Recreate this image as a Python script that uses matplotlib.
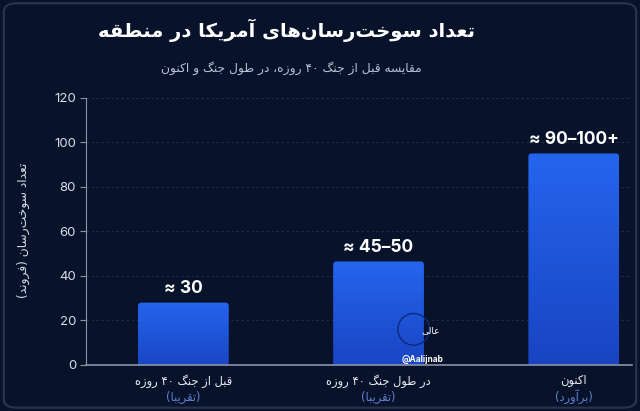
"""Persian bar chart: number of US tanker aircraft in the region."""
import re

import matplotlib
matplotlib.use("Agg")
import matplotlib.pyplot as plt
import numpy as np
from matplotlib.colors import LinearSegmentedColormap
from matplotlib.patches import FancyBboxPatch

# --- data -----------------------------------------------------------------
categories = ["قبل از جنگ ۴۰ روزه", "در طول جنگ ۴۰ روزه", "اکنون"]
notes = ["(تقریبا)", "(تقریبا)", "(برآورد)"]
values = [28, 46.5, 95]
value_labels = ["≈ 30", "≈ 45–50", "≈ 90–100+"]
y_ticks = [0, 20, 40, 60, 80, 100, 120]

title = "تعداد سوخت‌رسان‌های آمریکا در منطقه"
subtitle = "مقایسه قبل از جنگ ۴۰ روزه، در طول جنگ و اکنون"
y_label = "تعداد سوخت‌رسان (فروند)"

# --- minimal Arabic-script shaping (matplotlib has no RTL layout) ---------
# (isolated, final, initial, medial); None = letter does not join forward
FORMS = {
    "\u0627": (0xFE8D, 0xFE8E, None, None),
    "\u0622": (0xFE81, 0xFE82, None, None),
    "\u062F": (0xFEA9, 0xFEAA, None, None),
    "\u0631": (0xFEAD, 0xFEAE, None, None),
    "\u0632": (0xFEAF, 0xFEB0, None, None),
    "\u0648": (0xFEED, 0xFEEE, None, None),
    "\u0628": (0xFE8F, 0xFE90, 0xFE91, 0xFE92),
    "\u062A": (0xFE95, 0xFE96, 0xFE97, 0xFE98),
    "\u062C": (0xFE9D, 0xFE9E, 0xFE9F, 0xFEA0),
    "\u062E": (0xFEA5, 0xFEA6, 0xFEA7, 0xFEA8),
    "\u0633": (0xFEB1, 0xFEB2, 0xFEB3, 0xFEB4),
    "\u0637": (0xFEC1, 0xFEC2, 0xFEC3, 0xFEC4),
    "\u0639": (0xFEC9, 0xFECA, 0xFECB, 0xFECC),
    "\u0641": (0xFED1, 0xFED2, 0xFED3, 0xFED4),
    "\u0642": (0xFED5, 0xFED6, 0xFED7, 0xFED8),
    "\u0644": (0xFEDD, 0xFEDE, 0xFEDF, 0xFEE0),
    "\u0645": (0xFEE1, 0xFEE2, 0xFEE3, 0xFEE4),
    "\u0646": (0xFEE5, 0xFEE6, 0xFEE7, 0xFEE8),
    "\u0647": (0xFEE9, 0xFEEA, 0xFEEB, 0xFEEC),
    "\u06CC": (0xFBFC, 0xFBFD, 0xFBFE, 0xFBFF),
    "\u06A9": (0xFB8E, 0xFB8F, 0xFB90, 0xFB91),
    "\u06AF": (0xFB92, 0xFB93, 0xFB94, 0xFB95),
}
MIRROR = str.maketrans("()", ")(")


def fa(text):
    out = []
    for i, c in enumerate(text):
        if c not in FORMS:
            out.append(c)
            continue
        prev = text[i - 1] if i > 0 else ""
        nxt = text[i + 1] if i + 1 < len(text) else ""
        joins_prev = prev in FORMS and FORMS[prev][2] is not None
        joins_next = FORMS[c][2] is not None and nxt in FORMS
        iso, fin, ini, med = FORMS[c]
        if joins_prev and joins_next:
            out.append(chr(med))
        elif joins_prev:
            out.append(chr(fin))
        elif joins_next:
            out.append(chr(ini))
        else:
            out.append(chr(iso))
    shaped = "".join(out).replace("\u200c", "")
    visual = shaped[::-1].translate(MIRROR)
    return re.sub(r"[0-9\u06F0-\u06F9A-Za-z@]+", lambda m: m.group()[::-1], visual)


# --- styling ----------------------------------------------------------------
BG = "#08132b"
FA_FONT = ["DejaVu Sans"]
NUM_FONT = ["Inter", "DejaVu Sans"]

fig = plt.figure(figsize=(6.4, 4.11), dpi=100, facecolor=BG)
fig.patches.append(FancyBboxPatch((0.006, 0.008), 0.988, 0.984, boxstyle="round,pad=0,rounding_size=0.02",
                                  transform=fig.transFigure, facecolor="none", edgecolor="#27334c", linewidth=1.6))

ax = fig.add_axes([0.134, 0.112, 0.854, 0.650])
ax.set_facecolor(BG)

x = np.arange(len(categories))
bars = ax.bar(x, values, width=0.465, color="none", zorder=2)

cmap = LinearSegmentedColormap.from_list("bar", ["#1843c0", "#2565ee"])
grad = np.linspace(0, 1, 256).reshape(-1, 1)
for bar in bars:
    bx, by, bw, bh = bar.get_x(), bar.get_y(), bar.get_width(), bar.get_height()
    patch = FancyBboxPatch((bx, by - 3), bw, bh + 3, boxstyle="round,pad=0,rounding_size=0.018",
                           mutation_aspect=90, facecolor="none", edgecolor="none", zorder=2)
    ax.add_patch(patch)
    img = ax.imshow(grad, cmap=cmap, origin="lower", aspect="auto",
                    extent=(bx, bx + bw, by - 3, by + bh), zorder=2)
    img.set_clip_path(patch)

for xi, v, lab in zip(x, values, value_labels):
    ax.text(xi, v + 2.6, lab, ha="center", va="bottom", color="white", fontsize=12.5,
            fontweight="bold", family=NUM_FONT)

ax.set_xlim(-0.5, 2.3)
ax.set_ylim(0, 120)
ax.set_yticks(y_ticks)
ax.set_yticklabels([str(t) for t in y_ticks], family=NUM_FONT, fontsize=9.5, color="#d7dce6")
ax.tick_params(axis="y", length=4, color="#8a93a6", pad=3)
ax.set_xticks([])
ax.grid(axis="y", linestyle=(0, (3, 3)), color="#243049", linewidth=0.6, zorder=0)
for side in ("top", "right"):
    ax.spines[side].set_visible(False)
ax.spines["left"].set_color("#8a93a6")
ax.spines["bottom"].set_color("#8a93a6")
ax.spines["bottom"].set_linewidth(1.2)
ax.spines["bottom"].set_zorder(4)

trans = ax.get_xaxis_transform()
for xi, cat, note in zip(x, categories, notes):
    ax.text(xi, -0.06, fa(cat), transform=trans, ha="center", va="center", color="#e6e9f0",
            fontsize=8.3, family=FA_FONT)
    ax.text(xi, -0.12, fa(note), transform=trans, ha="center", va="center", color="#5f7fcf",
            fontsize=8.3, family=FA_FONT)

# watermark
ax.scatter([1.18], [16], s=520, facecolor="none", edgecolor="#0d2a7a", linewidth=1.0, zorder=3)
ax.text(1.22, 15.5, fa("عالی"), ha="left", va="center", color="white", fontsize=6.5,
        family=FA_FONT, zorder=3)
ax.text(1.12, 2.6, "@Aalijnab", ha="left", va="center", color="white", fontsize=6,
        fontweight="bold", family=NUM_FONT, zorder=3)

fig.text(0.447, 0.927, fa(title), ha="center", va="center", color="white", fontsize=14,
         fontweight="bold", family=FA_FONT)
fig.text(0.455, 0.835, fa(subtitle), ha="center", va="center", color="#b9c3d6", fontsize=8.8,
         family=FA_FONT)
fig.text(0.037, 0.44, fa(y_label), ha="center", va="center", rotation=90, color="#d7dce6",
         fontsize=8.8, family=FA_FONT)

fig.savefig("out.png", dpi=100, facecolor=BG)
